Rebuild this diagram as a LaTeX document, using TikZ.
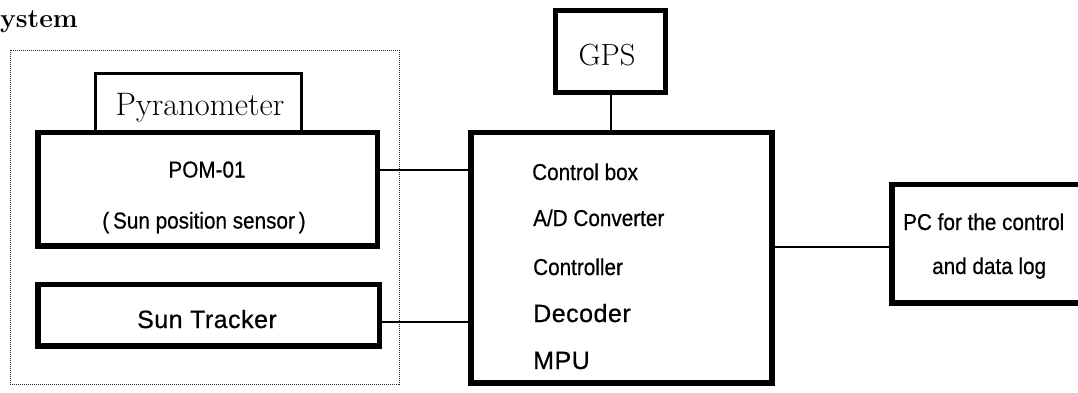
\documentclass[tikz,border=0pt]{standalone}
\usepackage{fontspec}
\newfontfamily\sansW[LetterSpace=2,FakeBold=0.6]{Liberation Sans}
\newfontfamily\sansN[FakeStretch=0.9,FakeBold=0.6]{Liberation Sans}
\begin{document}
\begin{tikzpicture}[x=1pt,y=-1pt,
  thickbox/.style={draw,line width=5.5pt,minimum width=#1,inner sep=0pt},
  conn/.style={line width=2pt},
  narrowtxt/.style={font=\sansN\fontsize{23}{26}\selectfont,inner sep=0pt},
  widetxt/.style={font=\sansW\fontsize{25}{28}\selectfont,inner sep=0pt},
  seriftxt/.style={font=\fontsize{32.5}{35}\selectfont,inner sep=0pt}]
\useasboundingbox (0,0) rectangle (1078,392);
\clip (0,0) rectangle (1078,392);
% title
\node[anchor=base west,inner sep=0pt,font=\bfseries\fontsize{26.5}{30}\selectfont\addfontfeature{FakeBold=1.2}] (title) at (0,27) {ystem};
% dotted group frame
\draw[line width=1pt,gray!30!black,dash pattern=on 1pt off 1pt] (10,50) rectangle (399,384);
% boxes
\node[draw,line width=3pt,minimum width=206pt,minimum height=59pt,inner sep=0pt] (pyr) at (198.5,103) {};
\node[thickbox=339.5pt,minimum height=113.5pt,fill=white] (pom) at (207.75,189.25) {};
\node[thickbox=341.5pt,minimum height=61.5pt] (trk) at (208.75,315.25) {};
\node[thickbox=110pt,minimum height=82pt] (gps) at (610.5,51.5) {};
\node[thickbox=301pt,minimum height=250.5pt] (ctrl) at (621.5,257.75) {};
\node[thickbox=198pt,minimum height=118.5pt] (pc) at (991,243.75) {};
% texts
\node[seriftxt,anchor=base] (tpyr) at (200,115) {Pyranometer};
\node[seriftxt,font=\fontsize{30.5}{33}\selectfont,anchor=base] (tgps) at (607,65) {GPS};
\node[narrowtxt,anchor=base] (tpom) at (207,177.5) {POM-01};
\node[narrowtxt,anchor=base] (tsps) at (204,228.5) {(\,Sun position sensor\,)};
\node[widetxt,anchor=base] (ttrk) at (207,328) {Sun Tracker};
\node[narrowtxt,anchor=base west] (t1) at (532,180) {Control box};
\node[narrowtxt,anchor=base west] (t2) at (533,226) {A/D Converter};
\node[narrowtxt,anchor=base west] (t3) at (533,275) {Controller};
\node[widetxt,anchor=base west] (t4) at (533,322) {Decoder};
\node[widetxt,anchor=base west] (t5) at (533,369) {MPU};
\node[narrowtxt,anchor=base west] (tpc1) at (903,230) {PC for the control};
\node[narrowtxt,anchor=base west] (tpc2) at (932,274) {and data log};
% connectors
\coordinate (c1) at (0,170);
\coordinate (c2) at (0,322);
\coordinate (c3) at (0,247);
\draw[conn] (pom.east |- c1) -- (ctrl.west |- c1);
\draw[conn] (trk.east |- c2) -- (ctrl.west |- c2);
\draw[conn] (gps.south) -- (gps.south |- ctrl.north);
\draw[conn] (ctrl.east |- c3) -- (pc.west |- c3);
\end{tikzpicture}
\end{document}
